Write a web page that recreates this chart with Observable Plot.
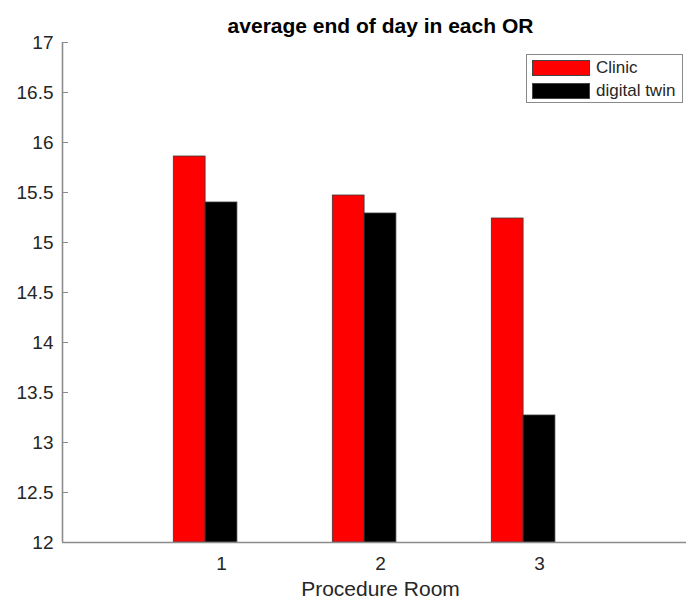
<!DOCTYPE html>
<html>
<head>
<meta charset="utf-8">
<script src="https://cdn.jsdelivr.net/npm/d3@7"></script>
<script src="https://cdn.jsdelivr.net/npm/@observablehq/plot@0.6"></script>
<style>
  html, body { margin: 0; padding: 0; background: #fff; overflow: hidden; }
  #wrap { position: relative; width: 686px; height: 601px; overflow: hidden; font-family: "Liberation Sans", Arial, sans-serif; color: #262626; }
  #wrap svg { max-width: none !important; width: 698px; height: 601px; display: block; }
  #legend { position: absolute; left: 526px; top: 54px; width: 157px; height: 49px; border: 1px solid #8a8a8a; background: #fff; box-sizing: border-box; }
  .lg-row { position: absolute; left: 5px; height: 16px; display: flex; align-items: center; font-size: 17px; white-space: nowrap; }
  .lg-sw { width: 58px; height: 16px; box-sizing: border-box; border: 1px solid #444; margin-right: 6px; }
</style>
</head>
<body>
<div id="wrap"></div>
<script>
const rooms = [1, 2, 3];
const clinic = [15.86, 15.47, 15.24];
const digitalTwin = [15.40, 15.29, 13.27];
const seriesNames = ["Clinic", "digital twin"];
const seriesColors = ["#ff0000", "#000000"];
const yTicks = [12, 12.5, 13, 13.5, 14, 14.5, 15, 15.5, 16, 16.5, 17];
const xTicks = [1, 2, 3];
const titleText = ["average end of day in each OR"];
const xLabelText = ["Procedure Room"];

const barW = 0.2;
const slots = [-1, 0];
const rows = rooms.flatMap((r, i) => [
  {room: r, series: seriesNames[0], value: clinic[i], slot: slots[0]},
  {room: r, series: seriesNames[1], value: digitalTwin[i], slot: slots[1]}
]);
const axisColor = "#8c8c8c";

const chart = Plot.plot({
  width: 698,
  height: 601,
  marginLeft: 62,
  marginRight: 0,
  marginTop: 42,
  marginBottom: 59,
  style: {fontFamily: "'Liberation Sans', Arial, sans-serif", color: "#262626", background: "transparent", maxWidth: "none"},
  x: {domain: [0, 4], axis: null},
  y: {domain: [12, 17], axis: null},
  color: {domain: seriesNames, range: seriesColors},
  marks: [
    Plot.rectY(rows, {
      x1: d => d.room + d.slot * barW - barW / 2,
      x2: d => d.room + d.slot * barW + barW / 2,
      y1: 12,
      y2: "value",
      fill: "series",
      stroke: "#3a3a3a",
      strokeWidth: 0.8
    }),
    Plot.ruleX([0], {stroke: axisColor, strokeWidth: 1.6}),
    Plot.ruleY([12], {stroke: axisColor, strokeWidth: 1.6}),
    Plot.axisY(yTicks, {tickSize: 0, tickPadding: 9, fontSize: 19, tickFormat: d => String(d), label: null}),
    Plot.axisY(yTicks, {tickSize: 6, dx: 6, tickFormat: () => "", label: null, stroke: axisColor}),
    Plot.axisX(xTicks, {tickSize: 0, tickPadding: 14, fontSize: 19, tickFormat: d => String(d), label: null}),
    Plot.text(xLabelText, {frameAnchor: "bottom", dy: 53, lineAnchor: "bottom", fontSize: 21, fill: "#262626"}),
    Plot.text(titleText, {frameAnchor: "top", dy: -10, lineAnchor: "bottom", fontSize: 21, fontWeight: "bold", fill: "#000"})
  ]
});

const wrap = document.getElementById("wrap");
wrap.appendChild(chart);

const legend = document.createElement("div");
legend.id = "legend";
seriesNames.forEach((name, i) => {
  const row = document.createElement("div");
  row.className = "lg-row";
  row.style.top = (i === 0 ? 5 : 28) + "px";
  const sw = document.createElement("div");
  sw.className = "lg-sw";
  sw.style.background = seriesColors[i];
  const label = document.createElement("span");
  label.textContent = name;
  row.appendChild(sw);
  row.appendChild(label);
  legend.appendChild(row);
});
wrap.appendChild(legend);
</script>
</body>
</html>
